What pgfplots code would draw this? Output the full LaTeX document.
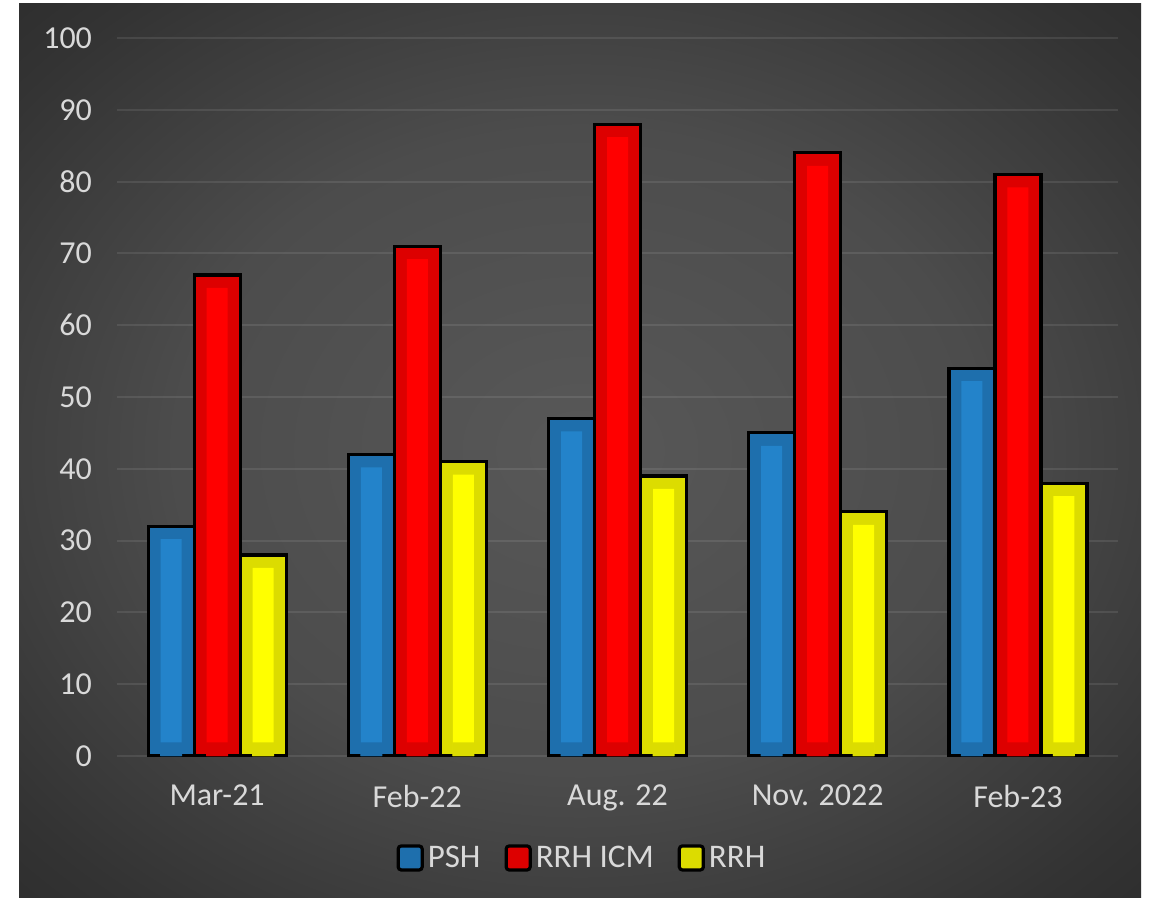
\documentclass[border=0pt]{standalone}
\usepackage{pgfplots}
\pgfplotsset{compat=1.18}
\usepackage{pgfplotstable}
\usepackage{fontspec}
\setmainfont{Carlito}

\definecolor{ticktext}{HTML}{D9D9D9}
\definecolor{bgin}{HTML}{585858}
\definecolor{bgmid}{HTML}{4C4C4C}
\definecolor{bgedge}{HTML}{333333}
\definecolor{bgcorner}{HTML}{262626}
\definecolor{bgfar}{HTML}{222222}
\definecolor{pshout}{HTML}{1E6FAD}
\definecolor{pshin}{HTML}{2383CA}
\definecolor{icmout}{HTML}{DD0000}
\definecolor{icmin}{HTML}{FF0000}
\definecolor{rrhout}{HTML}{DCDC00}
\definecolor{rrhin}{HTML}{FFFF00}

\pgfdeclareradialshading{bgshade}{\pgfpoint{0bp}{0bp}}{%
  color(0bp)=(bgin); color(18bp)=(bgmid); color(32bp)=(bgedge);
  color(42bp)=(bgcorner); color(71bp)=(bgfar)}

\pgfplotstableread{
x psh icm rrh
0 32 67 28
1 42 71 41
2 47 88 39
3 45 84 34
4 54 81 38
}\scores

\pgfplotsset{
  outerbar/.style 2 args={fill=#1, draw=black, line width=1.6pt,
    bar width=23pt, bar shift=#2,
    legend image code/.code={\draw[##1, line width=1.6pt, rounded corners=1.5pt]
      (0pt,-6pt) rectangle (12pt,6pt);}},
  innerbar/.style 2 args={fill=#1, draw=none, bar width=10.5pt, bar shift=#2, forget plot},
}

\begin{document}
\begin{tikzpicture}[x=1pt,y=1pt]
\fill[white] (0,0) rectangle (575,449.5);
\shade[shading=bgshade] (9.5,1) rectangle (570.5,447.5);
\begin{axis}[
    at={(58.5pt,71.5pt)}, anchor=south west
  , scale only axis, width=500.5pt, height=359pt
  , xmin=-0.5, xmax=4.5, ymin=0, ymax=100
  , ytick={0,10,...,100}
  , xtick={0,...,4}
  , xticklabels={Mar-21, Feb-22, Aug. 22, Nov. 2022, Feb-23}
  , axis line style={draw=none}
  , major tick length=0pt
  , ymajorgrids
  , major grid style={white, opacity=0.09, line width=1pt}
  , tick label style={font=\fontsize{16}{19}\selectfont, color=ticktext}
  , yticklabel style={xshift=-9pt}
  , xticklabel style={yshift=-11pt}
  , /pgf/number format/assume math mode=true
  , ybar
  , legend columns=3
  , legend style={at={(0.4655,-0.142)}, anchor=center, draw=none, fill=none,
      text=ticktext, font=\fontsize{16.5}{19}\selectfont,
      /tikz/every even column/.append style={column sep=10pt}}
  ]
% PSH
\addplot[outerbar={pshout}{-23pt}] table[x=x, y=psh] {\scores};
\addlegendentry{PSH}
\addplot[innerbar={pshin}{-23pt}] table[x=x, y expr=\thisrow{psh}-1.8] {\scores};
\addplot[innerbar={pshout}{-23pt}, bar width=11pt] table[x=x, y expr=1.9] {\scores};
% RRH ICM
\addplot[outerbar={icmout}{0pt}] table[x=x, y=icm] {\scores};
\addlegendentry{RRH ICM}
\addplot[innerbar={icmin}{0pt}] table[x=x, y expr=\thisrow{icm}-1.8] {\scores};
\addplot[innerbar={icmout}{0pt}, bar width=11pt] table[x=x, y expr=1.9] {\scores};
% RRH
\addplot[outerbar={rrhout}{23pt}] table[x=x, y=rrh] {\scores};
\addlegendentry{RRH}
\addplot[innerbar={rrhin}{23pt}] table[x=x, y expr=\thisrow{rrh}-1.8] {\scores};
\addplot[innerbar={rrhout}{23pt}, bar width=11pt] table[x=x, y expr=1.9] {\scores};
\end{axis}
\end{tikzpicture}
\end{document}
